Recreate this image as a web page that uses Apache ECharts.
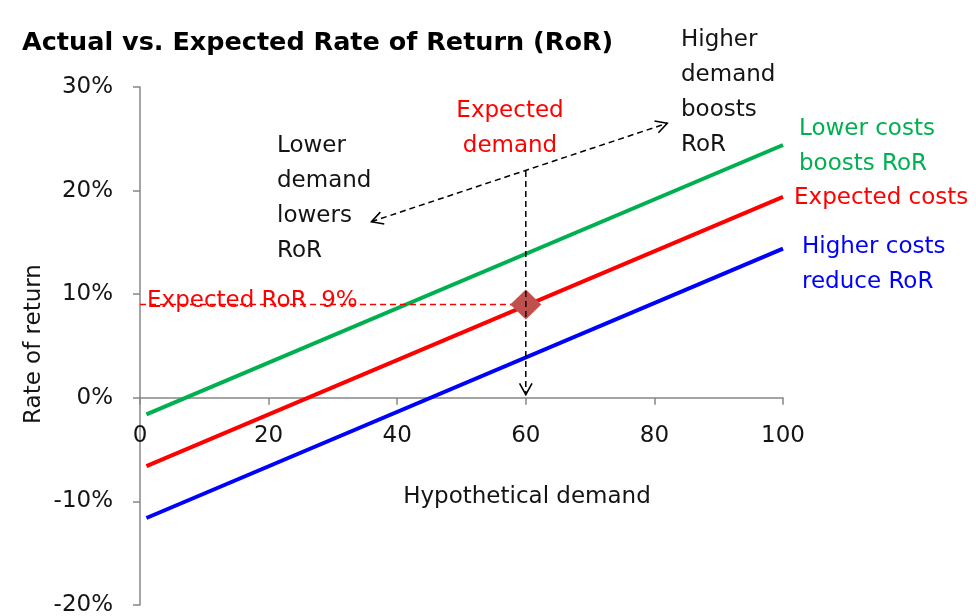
<!DOCTYPE html>
<html>
<head>
<meta charset="utf-8">
<title>Actual vs. Expected Rate of Return (RoR)</title>
<script src="https://cdn.jsdelivr.net/npm/echarts@6/dist/echarts.min.js"></script>
<style>
  html, body { margin: 0; padding: 0; background: #ffffff; }
  #chart { width: 976px; height: 616px; }
</style>
</head>
<body>
<div id="chart"></div>
<script>
// Hypothetical demand (x) at the two ends of each scenario line
const demand = [1, 100];
// Rate of return (%) for each cost scenario
const rorLowerCosts = [-1.6, 24.4];
const rorExpectedCosts = [-6.6, 19.4];
const rorHigherCosts = [-11.6, 14.4];
// Expected demand and expected RoR
const expectedPoint = [60, 9];
// Axis ranges and steps: [min, max, interval]
const xRange = [0, 100, 20];
const yRange = [-20, 30, 10];
// Guide arrows: [x1, y1, x2, y2, headAtStart, headAtEnd]
const demandArrows = [
  [36, 17, 82, 26.5, 1, 1],
  [60, 21.9, 60, 0.3, 0, 1]
];
const rorGuide = [[0, 9, 60, 9, 0, 0]];

const FONT = '"DejaVu Sans", "Noto Sans", sans-serif';
const GREEN = '#00b050';
const RED = '#ff0000';
const BLUE = '#0000ff';
const AXIS = '#878787';
const INK = '#141414';

const GRID = { left: 140, right: 193, top: 87, bottom: 11 };
const plotHeight = 616 - GRID.top - GRID.bottom;
// lift the demand axis from the bottom edge up to the 0% line
const xAxisOffset = -plotHeight * (0 - yRange[0]) / (yRange[1] - yRange[0]);

function pairs(xs, ys) {
  return xs.map((x, i) => [x, ys[i]]);
}

function arrowRenderer(color, width) {
  return function (params, api) {
    const p1 = api.coord([api.value(0), api.value(1)]);
    const p2 = api.coord([api.value(2), api.value(3)]);
    const children = [{
      type: 'line',
      shape: { x1: p1[0], y1: p1[1], x2: p2[0], y2: p2[1] },
      style: { stroke: color, lineWidth: width, lineDash: [6, 4] }
    }];
    const head = (tip, from) => {
      const ang = Math.atan2(from[1] - tip[1], from[0] - tip[0]);
      const len = 13, spread = 0.5;
      return {
        type: 'polyline',
        shape: { points: [
          [tip[0] + len * Math.cos(ang + spread), tip[1] + len * Math.sin(ang + spread)],
          tip,
          [tip[0] + len * Math.cos(ang - spread), tip[1] + len * Math.sin(ang - spread)]
        ] },
        style: { stroke: color, lineWidth: 1.6, fill: null }
      };
    };
    if (api.value(4)) children.push(head(p1, p2));
    if (api.value(5)) children.push(head(p2, p1));
    return { type: 'group', children };
  };
}

function textBlock(text, x, y, color, align) {
  return {
    type: 'text',
    x: x, y: y,
    z: 100,
    style: {
      text: text,
      font: '23px ' + FONT,
      fill: color,
      lineHeight: 35,
      textAlign: align || 'left',
      textVerticalAlign: 'top'
    }
  };
}

const chart = echarts.init(document.getElementById('chart'), null, { renderer: 'canvas' });

chart.setOption({
  animation: false,
  backgroundColor: '#ffffff',
  grid: Object.assign({ containLabel: false, outerBoundsMode: 'none' }, GRID),
  xAxis: {
    type: 'value',
    min: xRange[0], max: xRange[1], interval: xRange[2],
    position: 'bottom',
    offset: xAxisOffset,
    axisLine: { onZero: false, lineStyle: { color: AXIS, width: 1.5 } },
    axisTick: { show: true, length: 7, lineStyle: { color: AXIS, width: 1.5 } },
    axisLabel: { margin: 27, color: INK, fontSize: 23, fontFamily: FONT },
    splitLine: { show: false }
  },
  yAxis: {
    type: 'value',
    min: yRange[0], max: yRange[1], interval: yRange[2],
    axisLine: { show: true, onZero: false, lineStyle: { color: AXIS, width: 1.5 } },
    axisTick: { show: true, length: 7, lineStyle: { color: AXIS, width: 1.5 } },
    axisLabel: { margin: 27, color: INK, fontSize: 23, fontFamily: FONT, formatter: '{value}%' },
    splitLine: { show: false }
  },
  series: [
    {
      name: 'Lower costs', type: 'line', data: pairs(demand, rorLowerCosts),
      showSymbol: false, lineStyle: { color: GREEN, width: 4 }, z: 3
    },
    {
      name: 'Expected costs', type: 'line', data: pairs(demand, rorExpectedCosts),
      showSymbol: false, lineStyle: { color: RED, width: 4 }, z: 3
    },
    {
      name: 'Higher costs', type: 'line', data: pairs(demand, rorHigherCosts),
      showSymbol: false, lineStyle: { color: BLUE, width: 4 }, z: 3
    },
    {
      name: 'Expected RoR guide', type: 'custom', data: rorGuide,
      renderItem: arrowRenderer(RED, 1.4), z: 4, silent: true
    },
    {
      name: 'Expected RoR', type: 'scatter', data: [expectedPoint],
      symbol: 'diamond', symbolSize: [31, 30],
      itemStyle: { color: '#c0504d', opacity: 1 }, z: 5
    },
    {
      name: 'Demand arrows', type: 'custom', data: demandArrows,
      renderItem: arrowRenderer('#000000', 1.5), z: 6, silent: true
    }
  ],
  graphic: [
    {
      type: 'text', x: 22, y: 43, z: 100,
      style: {
        text: 'Actual vs. Expected Rate of Return (RoR)',
        font: 'bold 25.5px ' + FONT, fill: '#000000',
        textAlign: 'left', textVerticalAlign: 'middle'
      }
    },
    {
      type: 'text', x: 34, y: 344, rotation: Math.PI / 2, z: 100,
      style: {
        text: 'Rate of return', font: '23px ' + FONT, fill: INK,
        textAlign: 'center', textVerticalAlign: 'middle'
      }
    },
    {
      type: 'text', x: 527, y: 497, z: 100,
      style: {
        text: 'Hypothetical demand', font: '23px ' + FONT, fill: INK,
        textAlign: 'center', textVerticalAlign: 'middle'
      }
    },
    textBlock('Lower\ndemand\nlowers\nRoR', 277, 128.5, INK),
    textBlock('Expected\ndemand', 510, 93.5, RED, 'center'),
    textBlock('Higher\ndemand\nboosts\nRoR', 681, 22.5, INK),
    textBlock('Lower costs\nboosts RoR', 799, 111.5, GREEN),
    textBlock('Expected costs', 794, 180.5, RED),
    textBlock('Higher costs\nreduce RoR', 802, 229.5, BLUE),
    textBlock('Expected RoR  9%', 147, 283.5, RED)
  ]
});
</script>
</body>
</html>
